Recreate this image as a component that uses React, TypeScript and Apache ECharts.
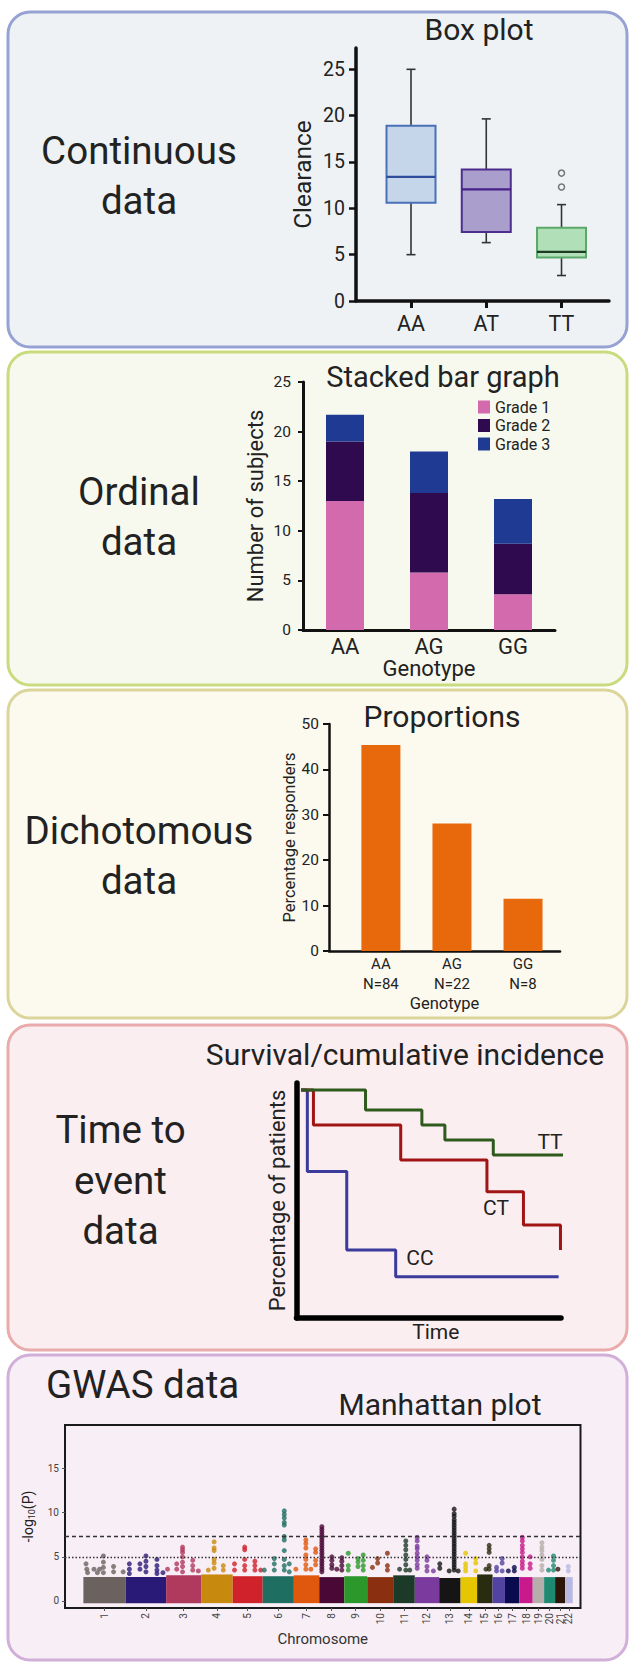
import React, { useEffect, useRef } from 'react';
import * as echarts from 'echarts';

// ---------- Panel 1: box plot ----------
const boxGenotypes = ['AA', 'AT', 'TT'];
const boxMin = [5.0, 6.3, 2.75];
const boxQ1 = [10.6, 7.45, 4.7];
const boxMedian = [13.4, 12.05, 5.3];
const boxQ3 = [18.9, 14.2, 7.9];
const boxMax = [25.0, 19.65, 10.4];
const boxOutliers = [[3, 13.8], [3, 12.3]];
const clearanceTicks = [0, 5, 10, 15, 20, 25];

// ---------- Panel 2: stacked bars ----------
const gradeGenotypes = ['AA', 'AG', 'GG'];
const grade1 = [13.0, 5.8, 3.6];
const grade2 = [6.0, 8.0, 5.1];
const grade3 = [2.7, 4.2, 4.5];

// ---------- Panel 3: proportions ----------
const propGenotypes = ['AA', 'AG', 'GG'];
const propN = ['N=84', 'N=22', 'N=8'];
const responders = [45.4, 28.1, 11.5];

// ---------- Panel 4: survival ----------
const survivalCC = [[1.7, 97], [4.1, 62.3], [19.0, 28.9], [37.5, 17.6], [99.1, 17.6]];
const survivalCT = [[1.7, 97], [6.4, 82.1], [39.4, 67.2], [72.0, 53.7], [85.8, 39.6], [99.8, 28.9]];
const survivalTT = [[1.7, 97], [26.1, 88.5], [47.4, 82.1], [56.1, 75.7], [74.4, 69.4], [104.3, 69.4]];

// ---------- Panel 5: Manhattan ----------
const chromosomes = ['1', '2', '3', '4', '5', '6', '7', '8', '9', '10', '11', '12', '13', '14', '15', '16', '17', '18', '19', '20', '21', '22'];
const chromSizes = [212, 202, 175, 158, 150, 156, 127, 125, 115, 130, 108, 122, 107, 83, 77, 62, 72, 67, 57, 55, 50, 38];
const chromDenseTop = [2.7, 2.7, 2.9, 3.0, 2.8, 2.8, 2.9, 2.7, 2.8, 2.7, 2.9, 2.7, 2.6, 2.7, 3.0, 2.7, 2.7, 2.7, 2.7, 2.7, 2.7, 2.7];
const denseFloor = -0.25;
const logpTicks = [0, 5, 10, 15];
const suggestiveLine = 5;
const genomeWideLine = 7.3;
// [chromosome, position within chromosome, -log10(P) values at that position]
const gwasColumns: [number, number, number[]][] = [
  [1, 13, [4.2]], [1, 17, [3.6]], [1, 21, [3.2]], [1, 53, [3.6]], [1, 70, [3.2]], [1, 81, [3.6]],
  [1, 100, [5.1, 4.4, 3.8, 3.2]], [1, 151, [3.9, 3.3]], [1, 199, [3.3]],
  [2, 18, [4.2, 3.6, 3.1]], [2, 71, [4.2, 3.6]], [2, 101, [5.1, 4.5, 3.9, 3.3]], [2, 156, [4.7, 4.0, 3.5, 3.1]], [2, 186, [3.2]],
  [3, 7, [3.6]], [3, 53, [4.2, 3.6]], [3, 82, [6.1, 5.8, 5.5, 5.0, 4.4, 3.9, 3.3]], [3, 133, [4.6, 4.0, 3.5]], [3, 161, [3.4]],
  [4, 36, [3.5]], [4, 65, [6.7, 6.0, 5.7, 4.7, 4.3, 3.7]], [4, 111, [4.0, 3.5]],
  [5, 9, [4.2, 3.5]], [5, 60, [6.1, 5.8, 4.7, 4.0, 3.5]], [5, 111, [4.5, 4.0, 3.5]], [5, 140, [3.5]],
  [6, 8, [3.5]], [6, 58, [4.8, 4.2, 3.5]], [6, 108, [10.2, 9.8, 9.4, 8.9, 8.6, 7.3, 6.9, 5.7, 4.7, 4.0, 3.5]], [6, 133, [4.2, 3.3]],
  [7, 10, [3.6]], [7, 60, [6.9, 6.5, 6.0, 5.2, 4.7, 4.1, 3.6]], [7, 85, [3.6]], [7, 109, [5.9, 5.5, 4.6, 4.1]],
  [8, 13, [8.4, 8.1, 7.8, 7.5, 7.2, 6.9, 6.6, 6.3, 6.0, 5.7, 5.4, 5.1, 4.8, 4.5, 4.2, 3.9, 3.6, 3.3]],
  [8, 63, [5.0, 4.6, 4.1, 3.7]], [8, 88, [3.6]], [8, 113, [4.9, 4.5, 4.0, 3.5]],
  [9, 20, [5.4, 4.0, 3.5]], [9, 69, [4.8, 4.4, 3.9]], [9, 95, [5.2, 4.6, 4.0, 3.5]],
  [10, 26, [3.8]], [10, 52, [4.8, 4.3]], [10, 101, [5.4, 4.0, 3.5]],
  [11, 32, [3.6]], [11, 63, [6.8, 6.3, 5.8, 5.2, 4.7, 4.1, 3.5]], [11, 83, [3.5]],
  [12, 12, [7.2, 6.8, 6.2, 5.9, 5.4, 5.0, 4.6, 4.1, 3.7]], [12, 61, [5.0, 4.6, 3.9, 3.4]], [12, 93, [3.4]],
  [13, 3, [4.2, 3.7]], [13, 50, [3.4]],
  [13, 75, [10.4, 9.9, 9.6, 9.2, 8.9, 8.6, 8.3, 8.0, 7.7, 7.4, 7.1, 6.8, 6.5, 6.2, 5.9, 5.6, 5.3, 5.0, 4.7, 4.4, 4.1, 3.8, 3.5]],
  [13, 95, [3.4]],
  [14, 25, [5.4, 4.2, 3.8, 3.4]], [14, 76, [4.8, 4.3, 3.4]],
  [15, 44, [3.6]], [15, 60, [6.3, 5.9, 5.5, 4.0, 3.6]],
  [16, 20, [3.8, 3.4]], [16, 48, [4.8, 4.3, 3.4]],
  [17, 17, [3.4]], [17, 47, [3.8, 3.4]],
  [18, 15, [7.2, 6.8, 6.3, 5.9, 5.5, 5.0, 4.5, 4.1, 3.7]], [18, 54, [5.0, 4.2, 3.7]],
  [19, 46, [6.6, 6.1, 5.7, 5.2, 4.7, 4.0, 3.5]],
  [20, 22, [3.5]], [20, 47, [5.1, 4.6, 4.0, 3.5]],
  [21, 14, [3.6]],
  [22, 16, [3.9, 3.4]],
];

// ---------- styles ----------
const FONT = 'Roboto';
const INK = '#222222';
const boxFill = ['#c5d6ea', '#aa9ecc', '#b1dfb8'];
const boxStroke = ['#4a71b7', '#4d2e8e', '#5aa96a'];
const boxMedianColor = ['#2e4c9c', '#48208a', '#1e3d24'];
const gradeColors = ['#d46aae', '#2f0a4f', '#1f3a93'];
const chromColors = ['#6b6260', '#2a1a78', '#b03a5e', '#c88a0e', '#d0222a', '#1f6e62', '#e0580e', '#4a0836', '#2c982c', '#8a3010', '#1c3a28', '#7a3a9e', '#151515', '#e6c600', '#2a2c10', '#5242a2', '#0a0a4e', '#c81a8a', '#b6aeaa', '#1e8a72', '#2e150a', '#b8b8e2'];

const panels = [
  { y: 12, h: 335, fill: '#eef2f5', stroke: '#96a2d4' },
  { y: 352, h: 333, fill: '#f8f9ee', stroke: '#c9db7f' },
  { y: 690, h: 328, fill: '#fcfaee', stroke: '#dbd59b' },
  { y: 1025, h: 325, fill: '#fbeef0', stroke: '#e9abab' },
  { y: 1355, h: 305, fill: '#f8eef6', stroke: '#d2afd9' },
];

function bigText(text: string, x: number, y: number, size: number, align = 'center') {
  return {
    type: 'text', x, y, z: 100,
    style: { text, fontSize: size, fontFamily: FONT, fill: INK, align, verticalAlign: 'middle' },
  };
}

export default function App() {
  const ref = useRef<HTMLDivElement>(null);
  useEffect(() => {
    if (!ref.current) return;
    const chart = echarts.init(ref.current, null, { renderer: 'svg' });

    const chromStarts: number[] = [];
    let acc = 0;
    chromSizes.forEach((s) => { chromStarts.push(acc); acc += s; });
    const chromCenters = chromSizes.map((s, i) => chromStarts[i] + s / 2);
    const oddCenters = chromCenters.filter((_, i) => i % 2 === 0);
    const evenCenters = chromCenters.filter((_, i) => i % 2 === 1);
    const chromLabel = (v: number) => {
      let idx = 0; let best = Infinity;
      chromCenters.forEach((c, i) => { const d = Math.abs(c - v); if (d < best) { best = d; idx = i; } });
      return chromosomes[idx];
    };

    const gwasPoints: number[][] = [];
    gwasColumns.forEach(([c, pos, vals]) => {
      vals.forEach((v) => gwasPoints.push([chromStarts[c - 1] + pos, v, c - 1]));
    });

    const boxData = boxGenotypes.map((_, i) => [i + 1, boxMin[i], boxQ1[i], boxMedian[i], boxQ3[i], boxMax[i]]);

    const graphics: any[] = [];
    panels.forEach((p) => {
      graphics.push({
        type: 'rect', z: -100,
        shape: { x: 8, y: p.y, width: 619, height: p.h, r: 22 },
        style: { fill: p.fill, stroke: p.stroke, lineWidth: 3 },
      });
    });
    graphics.push(
      bigText('Continuous', 139, 150, 38.5), bigText('data', 139, 200, 38.5),
      bigText('Ordinal', 139, 491, 38.5), bigText('data', 139, 541, 38.5),
      bigText('Dichotomous', 139, 830, 38.5), bigText('data', 139, 880, 38.5),
      bigText('Time to', 120.5, 1129, 38.5), bigText('event', 120.5, 1180, 38.5), bigText('data', 120.5, 1230, 38.5),
      bigText('GWAS data', 46, 1384, 38.5, 'left'),
      bigText('Box plot', 479, 29, 30),
      bigText('Stacked bar graph', 443, 377, 29),
      bigText('Proportions', 442, 716, 30),
      bigText('Survival/cumulative incidence', 405, 1054, 30),
      bigText('Manhattan plot', 440, 1404, 30),
      bigText('TT', 550, 1142, 21), bigText('CT', 496, 1208, 21), bigText('CC', 420, 1258, 21),
    );

    const axisLineStyle = (w: number) => ({ show: true, onZero: false, lineStyle: { color: '#111', width: w } });

    const chromAxis = (values: number[], withName: boolean) => ({
      type: 'value', gridIndex: 4, min: -92, max: 2487, position: 'bottom',
      axisLine: { show: false, onZero: false }, splitLine: { show: false },
      axisTick: { customValues: values, length: 3, lineStyle: { color: '#555', width: 1 } },
      axisLabel: {
        customValues: values, formatter: chromLabel,
        showMinLabel: true, showMaxLabel: true, hideOverlap: false,
        rotate: 90, fontSize: 10, color: '#444', margin: 5,
      },
      name: withName ? 'Chromosome' : '', nameLocation: 'middle', nameGap: 23,
      nameTextStyle: { fontSize: 15, color: '#333' },
    });

    const option: any = {
      animation: false,
      textStyle: { fontFamily: FONT },
      graphic: { elements: graphics },
      legend: {
        data: ['Grade 1', 'Grade 2', 'Grade 3'],
        orient: 'vertical', left: 478, top: 399, padding: 0,
        itemWidth: 12, itemHeight: 13, itemGap: 2.5, icon: 'rect',
        textStyle: { fontSize: 16, color: INK, lineHeight: 16, fontFamily: FONT },
      },
      grid: [
        { left: 356, top: 48, width: 253, height: 253 },
        { left: 303, top: 382, width: 252, height: 248 },
        { left: 329, top: 724, width: 231, height: 227 },
        { left: 296.5, top: 1083, width: 264.5, height: 235 },
        { left: 65, top: 1425, width: 515.5, height: 183, show: true, borderColor: '#1a1a1a', borderWidth: 2, backgroundColor: 'transparent' },
      ],
      xAxis: [
        {
          type: 'value', gridIndex: 0, min: 0.269, max: 3.631,
          axisLine: axisLineStyle(3.5), splitLine: { show: false },
          axisTick: { customValues: [1, 2, 3], length: 7, lineStyle: { color: '#111', width: 3 } },
          axisLabel: { customValues: [1, 2, 3], formatter: (v: number) => boxGenotypes[Math.round(v) - 1], fontSize: 21.5, color: INK, margin: 11 },
        },
        {
          type: 'category', gridIndex: 1, data: gradeGenotypes,
          axisLine: axisLineStyle(3), axisTick: { show: false },
          axisLabel: { fontSize: 22, color: INK, margin: 5 },
          name: 'Genotype', nameLocation: 'middle', nameGap: 27,
          nameTextStyle: { fontSize: 22, color: INK },
        },
        {
          type: 'value', gridIndex: 2, min: 0.27, max: 3.52,
          axisLine: axisLineStyle(2.5), axisTick: { show: false }, splitLine: { show: false },
          axisLabel: {
            customValues: [1, 2, 3],
            formatter: (v: number) => propGenotypes[Math.round(v) - 1] + '\n' + propN[Math.round(v) - 1],
            fontSize: 15, lineHeight: 20, color: INK, margin: 3,
          },
          name: 'Genotype', nameLocation: 'middle', nameGap: 38,
          nameTextStyle: { fontSize: 16.5, color: INK },
        },
        {
          type: 'value', gridIndex: 3, min: 0, max: 100,
          axisLine: { show: true, onZero: false, lineStyle: { color: '#000', width: 5.5 } },
          axisTick: { show: false }, axisLabel: { show: false }, splitLine: { show: false },
          name: 'Time', nameLocation: 'middle', nameGap: 3,
          nameTextStyle: { fontSize: 21, color: INK, padding: [0, 0, 0, 14] },
        },
        chromAxis(oddCenters, true),
        chromAxis(evenCenters, false),
      ],
      yAxis: [
        {
          type: 'value', gridIndex: 0, min: 0, max: 27.3,
          axisLine: axisLineStyle(3.5), splitLine: { show: false },
          axisTick: { show: true, customValues: clearanceTicks, length: 7, lineStyle: { color: '#111', width: 2.5 } },
          axisLabel: { customValues: clearanceTicks, fontSize: 19.5, color: INK, margin: 11 },
          name: 'Clearance', nameLocation: 'middle', nameGap: 41, nameRotate: 90,
          nameTextStyle: { fontSize: 24.5, color: INK },
        },
        {
          type: 'value', gridIndex: 1, min: 0, max: 25, interval: 5,
          axisLine: axisLineStyle(3), splitLine: { show: false },
          axisTick: { show: true, length: 5, lineStyle: { color: '#111', width: 2 } },
          axisLabel: { fontSize: 15.5, color: INK, margin: 12 },
          name: 'Number of subjects', nameLocation: 'middle', nameGap: 37, nameRotate: 90,
          nameTextStyle: { fontSize: 22, color: INK },
        },
        {
          type: 'value', gridIndex: 2, min: 0, max: 50, interval: 10,
          axisLine: axisLineStyle(2.5), splitLine: { show: false },
          axisTick: { show: true, length: 6, lineStyle: { color: '#111', width: 2 } },
          axisLabel: { fontSize: 15.5, color: INK, margin: 10 },
          name: 'Percentage responders', nameLocation: 'middle', nameGap: 29, nameRotate: 90,
          nameTextStyle: { fontSize: 16.5, color: INK },
        },
        {
          type: 'value', gridIndex: 3, min: 0, max: 100,
          axisLine: { show: true, onZero: false, lineStyle: { color: '#000', width: 5.5 } },
          axisTick: { show: false }, axisLabel: { show: false }, splitLine: { show: false },
          name: 'Percentage of patients', nameLocation: 'middle', nameGap: 8.5, nameRotate: 90,
          nameTextStyle: { fontSize: 22, color: INK },
        },
        {
          type: 'value', gridIndex: 4, min: -0.8, max: 19.93,
          axisLine: { show: false, onZero: false }, splitLine: { show: false },
          axisTick: { show: true, customValues: logpTicks, length: 3, lineStyle: { color: '#555', width: 1 } },
          axisLabel: { customValues: logpTicks, fontSize: 10, color: '#444', margin: 6 },
          name: '-log{sub|10}(P)', nameLocation: 'middle', nameGap: 24, nameRotate: 90,
          nameTextStyle: {
            fontSize: 14, color: '#222', lineHeight: 18,
            rich: { sub: { fontSize: 9, lineHeight: 10, verticalAlign: 'bottom', color: '#222' } },
          },
        },
      ],
      series: [
        {
          type: 'custom', name: 'Clearance box', xAxisIndex: 0, yAxisIndex: 0,
          data: boxData, encode: { x: 0, y: [1, 2, 3, 4, 5] },
          renderItem: (params: any, api: any) => {
            const x = api.value(0);
            const pLo = api.coord([x, api.value(1)]);
            const pQ1 = api.coord([x, api.value(2)]);
            const pMed = api.coord([x, api.value(3)]);
            const pQ3 = api.coord([x, api.value(4)]);
            const pHi = api.coord([x, api.value(5)]);
            const cx = pLo[0];
            const bw = 49; const cw = 9;
            const i = params.dataIndex;
            const ws = { stroke: '#333', lineWidth: 1.6 };
            return {
              type: 'group',
              children: [
                { type: 'line', shape: { x1: cx, y1: pLo[1], x2: cx, y2: pHi[1] }, style: ws },
                { type: 'line', shape: { x1: cx - cw / 2, y1: pLo[1], x2: cx + cw / 2, y2: pLo[1] }, style: ws },
                { type: 'line', shape: { x1: cx - cw / 2, y1: pHi[1], x2: cx + cw / 2, y2: pHi[1] }, style: ws },
                { type: 'rect', shape: { x: cx - bw / 2, y: pQ3[1], width: bw, height: pQ1[1] - pQ3[1] }, style: { fill: boxFill[i], stroke: boxStroke[i], lineWidth: 2 } },
                { type: 'line', shape: { x1: cx - bw / 2, y1: pMed[1], x2: cx + bw / 2, y2: pMed[1] }, style: { stroke: boxMedianColor[i], lineWidth: 2.2 } },
              ],
            };
          },
        },
        {
          type: 'scatter', name: 'Outliers', xAxisIndex: 0, yAxisIndex: 0,
          data: boxOutliers, symbol: 'circle', symbolSize: 6,
          itemStyle: { color: '#eef2f5', borderColor: '#555', borderWidth: 1.5 },
        },
        { type: 'bar', name: 'Grade 1', stack: 'grade', xAxisIndex: 1, yAxisIndex: 1, data: grade1, barWidth: 38, itemStyle: { color: gradeColors[0] } },
        { type: 'bar', name: 'Grade 2', stack: 'grade', xAxisIndex: 1, yAxisIndex: 1, data: grade2, barWidth: 38, itemStyle: { color: gradeColors[1] } },
        { type: 'bar', name: 'Grade 3', stack: 'grade', xAxisIndex: 1, yAxisIndex: 1, data: grade3, barWidth: 38, itemStyle: { color: gradeColors[2] } },
        {
          type: 'bar', name: 'Responders', xAxisIndex: 2, yAxisIndex: 2,
          data: responders.map((v, i) => [i + 1, v]), barWidth: 39, itemStyle: { color: '#e8690b' },
        },
        { type: 'line', name: 'CC', xAxisIndex: 3, yAxisIndex: 3, data: survivalCC, step: 'end', showSymbol: false, clip: false, lineStyle: { color: '#3b3b9b', width: 3 } },
        { type: 'line', name: 'CT', xAxisIndex: 3, yAxisIndex: 3, data: survivalCT, step: 'end', showSymbol: false, clip: false, lineStyle: { color: '#a01414', width: 3 } },
        { type: 'line', name: 'TT', xAxisIndex: 3, yAxisIndex: 3, data: survivalTT, step: 'end', showSymbol: false, clip: false, lineStyle: { color: '#2e5a1e', width: 3 } },
        {
          type: 'custom', name: 'Dense SNPs', xAxisIndex: 4, yAxisIndex: 4,
          data: chromSizes.map((s, i) => [chromStarts[i], chromStarts[i] + s, chromDenseTop[i], i]),
          encode: { x: [0, 1], y: 2 },
          renderItem: (params: any, api: any) => {
            const p0 = api.coord([api.value(0), denseFloor]);
            const p1 = api.coord([api.value(1), api.value(2)]);
            return {
              type: 'rect',
              shape: { x: p0[0], y: p1[1], width: p1[0] - p0[0], height: p0[1] - p1[1] },
              style: { fill: chromColors[api.value(3)] },
            };
          },
        },
        {
          type: 'scatter', name: 'SNPs', xAxisIndex: 4, yAxisIndex: 4,
          data: gwasPoints, symbolSize: 5,
          itemStyle: { color: (p: any) => chromColors[p.value[2]] },
          markLine: {
            silent: true, symbol: ['none', 'none'], label: { show: false },
            data: [
              { yAxis: genomeWideLine, lineStyle: { type: [4, 3], color: '#333', width: 1.3 } },
              { yAxis: suggestiveLine, lineStyle: { type: [1.5, 2], color: '#333', width: 1.3 } },
            ],
          },
        },
      ],
    };
    chart.setOption(option);
    return () => chart.dispose();
  }, []);

  return <div ref={ref} style={{ position: 'absolute', left: 0, top: 0, width: 630, height: 1662 }} />;
}
